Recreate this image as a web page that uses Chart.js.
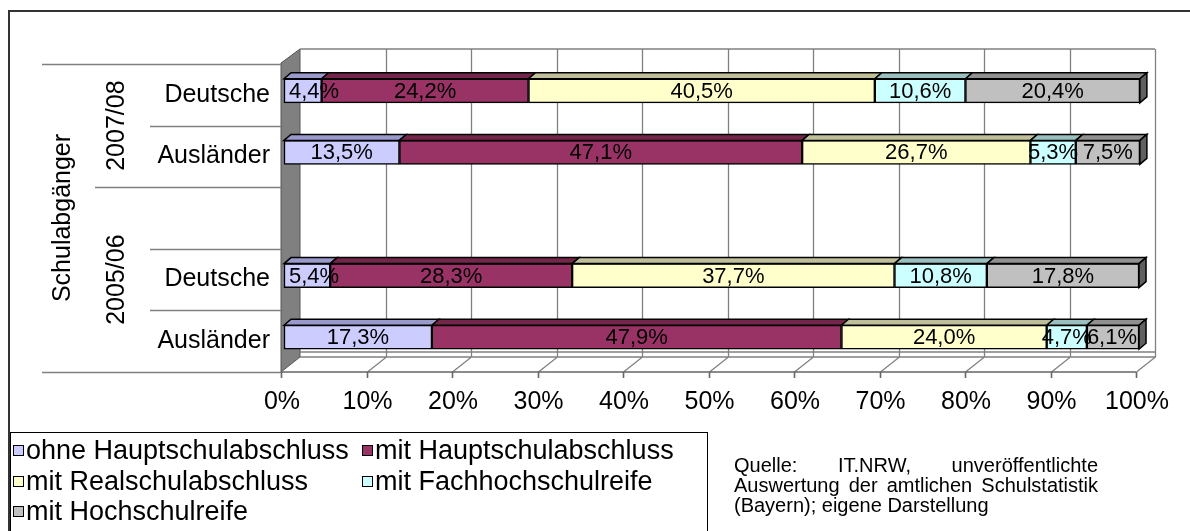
<!DOCTYPE html>
<html>
<head>
<meta charset="utf-8">
<script src="https://cdn.jsdelivr.net/npm/chart.js@4.4.1/dist/chart.umd.min.js"></script>
<style>
body{margin:0;background:#fff;}
#wrap{width:1190px;height:531px;}
</style>
</head>
<body>
<div id="wrap"><canvas id="myChart" width="1190" height="531"></canvas></div>
<script>
// categories top to bottom, the empty one is the spacer in front of 2005/06
var categories = ["Deutsche", "Ausländer", "", "Deutsche", "Ausländer"];
var groupLabels = ["2007/08", "2005/06"];
var groupSpans = [[0, 1], [2, 4]];
var axisTitle = "Schulabgänger";

var seriesNames = ["ohne Hauptschulabschluss", "mit Hauptschulabschluss", "mit Realschulabschluss", "mit Fachhochschulreife", "mit Hochschulreife"];
var ohneHS   = [4.4, 13.5, null, 5.4, 17.3];
var mitHS    = [24.2, 47.1, null, 28.3, 47.9];
var realS    = [40.5, 26.7, null, 37.7, 24.0];
var fachHR   = [10.6, 5.3, null, 10.8, 4.7];
var hochR    = [20.4, 7.5, null, 17.8, 6.1];

var tickMax = 100;
var tickStep = 10;

var sourceLines = [
    ["Quelle:", "IT.NRW,", "unveröffentlichte"],
    ["Auswertung", "der", "amtlichen", "Schulstatistik"],
    ["(Bayern);", "eigene", "Darstellung"]
];

var FONT = '"Liberation Sans", Arial, sans-serif';
var colors    = ["#CCCCFF", "#993366", "#FFFFCC", "#CCFFFF", "#C0C0C0"];
var topColors = ["#9999CC", "#732649", "#BFBF99", "#99BFBF", "#909090"];
var sideColor = "#606060";

// 3d look
var DX = 7, DY = -6;
var BACK = 16, FRONT = -3;
var wallTop = 49, floorBack = 352, floorBack2 = 357, floorFront = 372;
var LBL = 4; // front plane shift for the category area

var threeD = {
    id: "threeD",
    beforeDatasetsDraw: function(chart){
        var ctx = chart.ctx, xs = chart.scales.x, ys = chart.scales.y;
        var x0 = xs.getPixelForValue(0), x1 = xs.getPixelForValue(tickMax);
        ctx.save();
        // left wall
        ctx.fillStyle = "#808080";
        ctx.beginPath();
        ctx.moveTo(x0+FRONT, wallTop+14);
        ctx.lineTo(x0+BACK, wallTop);
        ctx.lineTo(x0+BACK, floorBack2);
        ctx.lineTo(x0+FRONT, floorFront);
        ctx.closePath();
        ctx.fill();
        ctx.strokeStyle = "#555";
        ctx.lineWidth = 1;
        ctx.stroke();

        ctx.strokeStyle = "#808080";
        ctx.lineWidth = 1.3;
        ctx.beginPath();
        ctx.moveTo(x0+BACK, wallTop); ctx.lineTo(x1+BACK, wallTop);
        ctx.moveTo(x0+BACK, floorBack); ctx.lineTo(x1+BACK, floorBack);
        ctx.moveTo(x0+BACK, floorBack2); ctx.lineTo(x1+BACK, floorBack2);
        for(var v = tickStep; v <= tickMax; v += tickStep){
            var bx = Math.round(xs.getPixelForValue(v)+BACK)+0.5;
            var fx = Math.round(xs.getPixelForValue(v)+FRONT)+0.5;
            ctx.moveTo(bx, wallTop); ctx.lineTo(bx, floorBack2);
            ctx.lineTo(fx, floorFront);
        }
        ctx.stroke();

        // front edge + tick marks
        ctx.strokeStyle = "#666";
        ctx.lineWidth = 1.6;
        ctx.beginPath();
        ctx.moveTo(x0+FRONT, floorFront); ctx.lineTo(x1+FRONT, floorFront);
        for(var t = 0; t <= tickMax; t += tickStep){
            var tx = Math.round(xs.getPixelForValue(t)+FRONT)+0.5;
            ctx.moveTo(tx, floorFront); ctx.lineTo(tx, floorFront+6);
        }
        ctx.stroke();

        // lines of the category area
        var n = categories.length;
        var edge = function(i){
            if(i <= 0) return ys.top + LBL;
            if(i >= n) return ys.bottom + LBL;
            return (ys.getPixelForValue(i-1) + ys.getPixelForValue(i))/2 + LBL;
        };
        ctx.strokeStyle = "#808080";
        ctx.lineWidth = 1.5;
        ctx.beginPath();
        for(var i = 0; i <= n; i++){
            var yy = Math.round(edge(i))+0.5;
            var startX = 150;
            if(i === 0 || i === n) startX = 42;
            else {
                for(var g = 1; g < groupSpans.length; g++){
                    if(groupSpans[g][0] === i) startX = 95;
                }
            }
            ctx.moveTo(startX, yy); ctx.lineTo(x0+FRONT, yy);
        }
        ctx.stroke();
        ctx.restore();
    },
    afterDatasetsDraw: function(chart){
        var ctx = chart.ctx, xs = chart.scales.x;
        var x0 = xs.getPixelForValue(0);
        var nd = chart.data.datasets.length;
        ctx.save();
        ctx.lineWidth = 1.5;
        ctx.strokeStyle = "#000";
        var ends = [];
        for(var d = 0; d < nd; d++){
            var meta = chart.getDatasetMeta(d);
            meta.data.forEach(function(el, j){
                var val = chart.data.datasets[d].data[j];
                if(val === null) return;
                var l = Math.min(el.base, el.x), r = Math.max(el.base, el.x);
                var top = el.y - el.height/2, bot = el.y + el.height/2;
                ctx.fillStyle = topColors[d];
                ctx.beginPath();
                ctx.moveTo(l, top); ctx.lineTo(l+DX, top+DY);
                ctx.lineTo(r+DX, top+DY); ctx.lineTo(r, top);
                ctx.closePath(); ctx.fill(); ctx.stroke();
                if(d === nd-1){
                    ctx.fillStyle = sideColor;
                    ctx.beginPath();
                    ctx.moveTo(r, top); ctx.lineTo(r+DX, top+DY);
                    ctx.lineTo(r+DX, bot+DY); ctx.lineTo(r, bot);
                    ctx.closePath(); ctx.fill(); ctx.stroke();
                    ends[j] = r;
                }
            });
        }
        // value labels
        ctx.font = "22px " + FONT;
        ctx.fillStyle = "#000";
        ctx.textAlign = "center";
        ctx.textBaseline = "middle";
        for(var d2 = 0; d2 < nd; d2++){
            var meta2 = chart.getDatasetMeta(d2);
            meta2.data.forEach(function(el, j){
                var val = chart.data.datasets[d2].data[j];
                if(val === null) return;
                var txt = val.toFixed(1).replace(".", ",") + "%";
                var w = ctx.measureText(txt).width;
                var cx = (el.base + el.x)/2;
                cx = Math.max(cx, x0 + w/2 + 5);
                if(ends[j]) cx = Math.min(cx, ends[j] - w/2 - 2);
                ctx.fillText(txt, cx, el.y + 1);
            });
        }
        ctx.restore();
    },
    afterDraw: function(chart){
        var ctx = chart.ctx, ys = chart.scales.y;
        ctx.save();
        ctx.fillStyle = "#000";
        ctx.font = "25px " + FONT;
        ctx.textAlign = "center";
        ctx.textBaseline = "middle";
        groupSpans.forEach(function(sp, g){
            var cy = (ys.getPixelForValue(sp[0]) + ys.getPixelForValue(sp[1]))/2 + LBL;
            ctx.save();
            ctx.translate(117, cy);
            ctx.rotate(-Math.PI/2);
            ctx.fillText(groupLabels[g], 0, 0);
            ctx.restore();
        });
        var my = (ys.getPixelForValue(0) + ys.getPixelForValue(categories.length-1))/2 + LBL;
        ctx.save();
        ctx.translate(63, my);
        ctx.rotate(-Math.PI/2);
        ctx.fillText(axisTitle, 0, 0);
        ctx.restore();

        // legend
        ctx.lineWidth = 1;
        ctx.strokeStyle = "#000";
        ctx.strokeRect(10.5, 432.5, 697, 120);
        var cols = [13, 362], rows = [451, 482, 512];
        ctx.font = "27px " + FONT;
        ctx.textAlign = "left";
        chart.data.datasets.forEach(function(ds, i){
            var cx = cols[i % 2], cy = rows[Math.floor(i/2)];
            ctx.fillStyle = ds.backgroundColor;
            ctx.fillRect(cx+0.5, cy-5.5, 10, 10);
            ctx.strokeRect(cx+0.5, cy-5.5, 10, 10);
            ctx.fillStyle = "#000";
            ctx.fillText(ds.label, cx + 13, cy + 1);
        });

        // source note, justified
        ctx.font = "20px " + FONT;
        var sx0 = 734, sx1 = 1098, sy = [466, 486, 506];
        sourceLines.forEach(function(words, li){
            var x = sx0;
            if(li === sourceLines.length-1){
                ctx.fillText(words.join(" "), x, sy[li]);
                return;
            }
            var total = 0;
            words.forEach(function(w){ total += ctx.measureText(w).width; });
            var gap = (sx1 - sx0 - total)/(words.length-1);
            words.forEach(function(w){
                ctx.fillText(w, x, sy[li]);
                x += ctx.measureText(w).width + gap;
            });
        });

        // outer frame
        ctx.strokeStyle = "#333";
        ctx.lineWidth = 2;
        ctx.beginPath();
        ctx.moveTo(9, 531); ctx.lineTo(9, 11); ctx.lineTo(1190, 11);
        ctx.stroke();
        ctx.restore();
    }
};

var ctx = document.getElementById("myChart").getContext("2d");
var allSeries = [ohneHS, mitHS, realS, fachHR, hochR];
var datasets = allSeries.map(function(vals, i){
    return {
        label: seriesNames[i],
        data: vals,
        backgroundColor: colors[i],
        borderColor: "#000",
        borderWidth: 1.5,
        borderSkipped: false,
        barThickness: 24,
        clip: false
    };
});

var myChart = new Chart(ctx, {
    type: "bar",
    data: { labels: categories, datasets: datasets },
    options: {
        responsive: false,
        animation: false,
        devicePixelRatio: 1,
        indexAxis: "y",
        layout: { padding: { top: 60, right: 50, bottom: 92, left: 0 } },
        plugins: { legend: { display: false }, tooltip: { enabled: false } },
        scales: {
            x: {
                stacked: true, min: 0, max: tickMax,
                grid: { display: false, drawTicks: false },
                border: { display: false },
                ticks: {
                    stepSize: tickStep, autoSkip: false, maxRotation: 0,
                    callback: function(v){ return v + "%"; },
                    font: { size: 25, family: FONT }, color: "#000",
                    padding: 19, labelOffset: -2
                },
                afterFit: function(s){ s.height = 71; }
            },
            y: {
                stacked: true,
                grid: { display: false, drawTicks: false },
                border: { display: false },
                ticks: {
                    autoSkip: false,
                    font: { size: 25, family: FONT }, color: "#000",
                    padding: 14, labelOffset: 4
                },
                afterFit: function(s){ s.width = 284; }
            }
        }
    },
    plugins: [threeD]
});
</script>
</body>
</html>
